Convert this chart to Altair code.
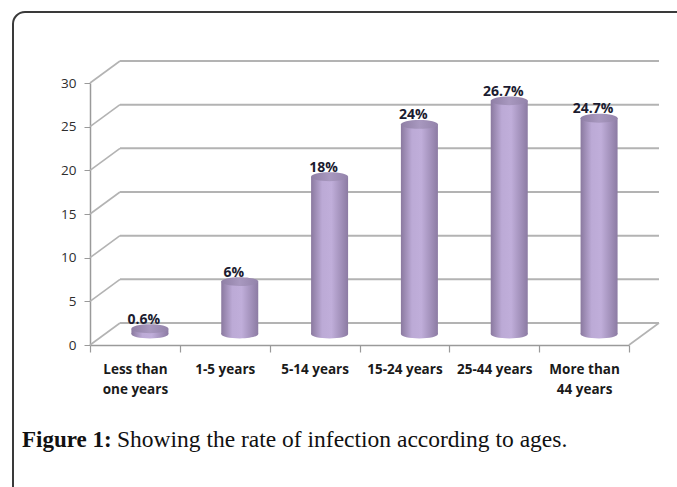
import altair as alt
import pandas as pd

# ---- data ----
categories = ["Less than\none years", "1-5 years", "5-14 years",
              "15-24 years", "25-44 years", "More than\n44 years"]
values = [0.6, 6, 18, 24, 26.7, 24.7]
value_labels = ["0.6%", "6%", "18%", "24%", "26.7%", "24.7%"]
y_ticks = [0, 5, 10, 15, 20, 25, 30]
caption_bold = "Figure 1:"
caption_rest = "Showing the rate of infection according to ages."

bars_df = pd.DataFrame({"age": categories, "rate": values, "label": value_labels})
grid_df = pd.DataFrame({"v": y_ticks})
zero_df = pd.DataFrame({"v": [0]})

W, H = 539, 262          # plot area (front plane)
DX, DY = 30, -22         # depth of the 3-D box
BX, BY = 15, -11         # bars stand at mid depth
BW = 37                  # cylinder width

GRID = "#b3b3b3"
AXIS = "#9a9a9a"

x_enc = alt.X("age:N", sort=categories, title=None,
              scale=alt.Scale(paddingInner=0, paddingOuter=0),
              axis=alt.Axis(labelAngle=0, tickBand="extent", domainColor=AXIS,
                            tickColor=AXIS, tickSize=7, tickWidth=1.2, domainWidth=1.5,
                            labelFont="Open Sans", labelFontWeight="bold",
                            labelFontSize=13.5, labelColor="#1a1a1a",
                            labelPadding=10, labelLineHeight=20,
                            labelExpr="split(datum.label, '\\n')"))
y_scale = alt.Scale(domain=[0, 30], nice=False, zero=True)
y_axis = alt.Axis(values=y_ticks, grid=False, domainColor=AXIS, tickColor=AXIS,
                  tickSize=6, domainWidth=1.5, labelFont="Open Sans",
                  labelFontSize=13.5, labelColor="#2e2e2e", labelPadding=8)
y_enc = alt.Y("v:Q", scale=y_scale, axis=y_axis, title=None)

# 3-D box: diagonals from the front axis to the back wall
diag = alt.Chart(grid_df).mark_rule(color=GRID, strokeWidth=1.6, y2Offset=DY).encode(
    x=alt.value(0), x2=alt.value(DX), y=y_enc, y2="v:Q")
# back wall gridlines
back = alt.Chart(grid_df).mark_rule(color=GRID, strokeWidth=2, yOffset=DY).encode(
    x=alt.value(DX), x2=alt.value(W + DX), y=y_enc)
# right edge of the floor
floor_r = alt.Chart(zero_df).mark_rule(color=GRID, strokeWidth=1.6, y2Offset=DY).encode(
    x=alt.value(W), x2=alt.value(W + DX), y=y_enc, y2="v:Q")

body_grad = alt.LinearGradient(
    gradient="linear", x1=0, x2=1, y1=0, y2=0,
    stops=[alt.GradientStop(offset=0, color="#8a799f"),
           alt.GradientStop(offset=0.3, color="#bcaad6"),
           alt.GradientStop(offset=0.55, color="#c0aeda"),
           alt.GradientStop(offset=1, color="#8c7ba3")])
top_grad = alt.LinearGradient(
    gradient="linear", x1=0, x2=1, y1=0, y2=0,
    stops=[alt.GradientStop(offset=0, color="#8f7fa5"),
           alt.GradientStop(offset=0.5, color="#a898bf"),
           alt.GradientStop(offset=1, color="#9383aa")])
ellipse = "M-1,0A1,0.24,0,1,0,1,0A1,0.24,0,1,0,-1,0Z"

ry = alt.Y("rate:Q", scale=y_scale, axis=y_axis, title=None)

bottom = alt.Chart(bars_df).mark_point(
    shape=ellipse, size=BW * BW, filled=True, fill=body_grad, opacity=1,
    strokeWidth=0, xOffset=BX, yOffset=BY).encode(
    x=x_enc, y=alt.Y(datum=0, scale=y_scale, axis=y_axis))
body = alt.Chart(bars_df).mark_bar(
    width=BW, color=body_grad, xOffset=BX, yOffset=BY, y2Offset=BY).encode(
    x=x_enc, y=ry)
top = alt.Chart(bars_df).mark_point(
    shape=ellipse, size=BW * BW, filled=True, fill=top_grad, opacity=1,
    strokeWidth=0, xOffset=BX, yOffset=BY).encode(x=x_enc, y=ry)
labels = alt.Chart(bars_df).mark_text(
    font="Open Sans", fontWeight="bold", fontSize=14, color="#1c1c30",
    baseline="alphabetic", xOffset=9, yOffset=BY - 5).encode(
    x=x_enc, y=ry, text="label:N")

frame = alt.Chart(pd.DataFrame({"k": [0]})).mark_rect(
    fillOpacity=0, stroke="#3a3a3a", strokeWidth=2, cornerRadius=12).encode(
    x=alt.value(-77), x2=alt.value(700), y=alt.value(-71), y2=alt.value(460))

cap1 = alt.Chart(pd.DataFrame({"t": [caption_bold]})).mark_text(
    font="Liberation Serif", fontWeight="bold", fontSize=23, color="#111111",
    align="left", baseline="alphabetic").encode(
    x=alt.value(-68), y=alt.value(364), text="t:N")
cap2 = alt.Chart(pd.DataFrame({"t": [caption_rest]})).mark_text(
    font="Liberation Serif", fontSize=23.5, color="#111111",
    align="left", baseline="alphabetic").encode(
    x=alt.value(27), y=alt.value(364), text="t:N")

chart = alt.layer(frame, diag, back, floor_r, bottom, body, top, labels, cap1, cap2).properties(
    width=W, height=H,
    autosize=alt.AutoSizeParams(type="none"),
    padding={"left": 90, "top": 83, "right": 48, "bottom": 142},
    background="white",
).configure_view(stroke=None)

chart.save("out.html", embed_options={"renderer": "svg", "actions": False})
